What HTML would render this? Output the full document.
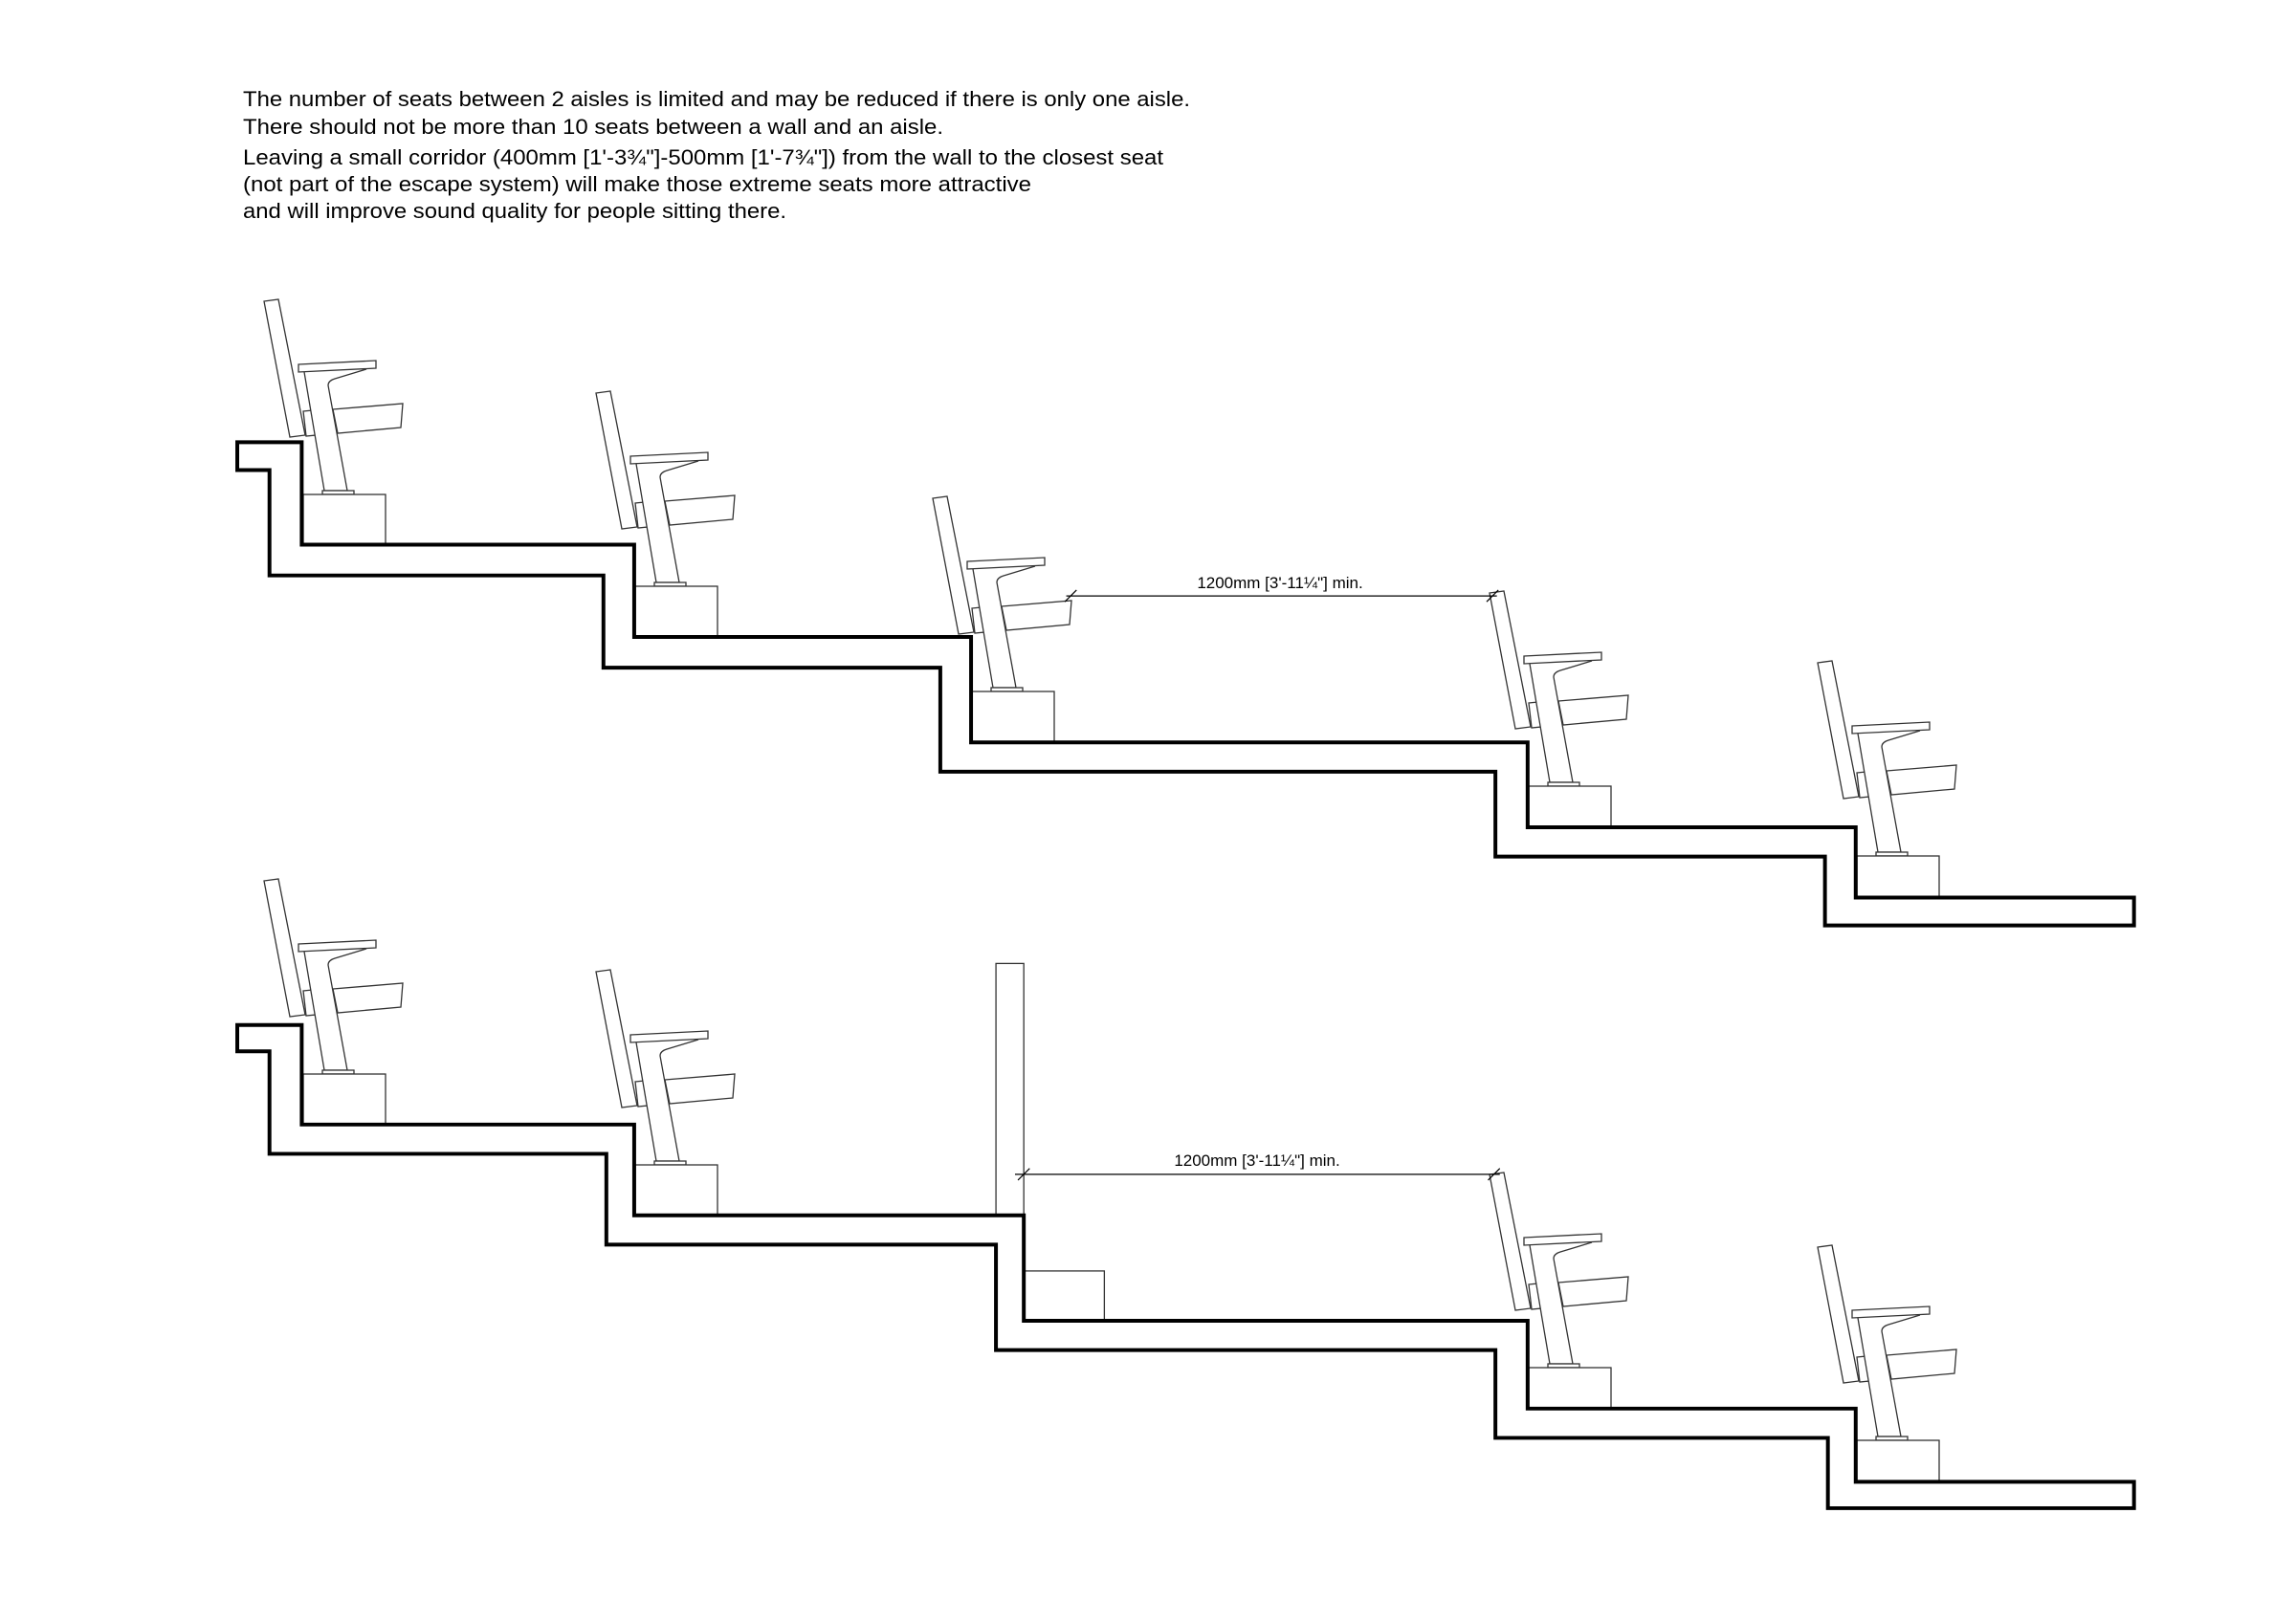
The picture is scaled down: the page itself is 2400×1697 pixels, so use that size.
<!DOCTYPE html>
<html><head><meta charset="utf-8"><style>
html,body{margin:0;padding:0;background:#fff;}
svg{display:block;}
</style></head><body>
<svg width="2400" height="1697" viewBox="0 0 2400 1697" xmlns="http://www.w3.org/2000/svg">
<defs>
<g id="chair" fill="#fff" stroke="#333" stroke-width="1.3" stroke-linejoin="miter">
  <polygon points="-40,-255 -25,-257 3,-115 -13,-113"/>
  <polygon points="1,-140 11,-141 14,-115 4,-114"/>
  <path d="M2,-181 L23,-57 L47,-57 L27,-167 Q27,-172 34,-174 L67,-184"/>
  <polygon points="32,-142 105,-148 103,-123 37,-117"/>
  <polygon points="-4,-189 77,-193 77,-185 -4,-181"/>
  <rect x="21" y="-57" width="33" height="4"/>
</g>
<g id="seat">
  <use href="#chair"/>
  <rect x="1" y="-53" width="86" height="53" fill="#fff" stroke="#333" stroke-width="1.3"/>
</g>
<g id="seatB">
  <use href="#chair"/>
  <rect x="1" y="-53" width="86" height="43" fill="#fff" stroke="#333" stroke-width="1.3"/>
</g>
</defs>
<g font-family="Liberation Sans, Arial, sans-serif" font-size="22" fill="#000">
<text x="254" y="111" textLength="990" lengthAdjust="spacingAndGlyphs">The number of seats between 2 aisles is limited and may be reduced if there is only one aisle.</text>
<text x="254" y="140" textLength="732" lengthAdjust="spacingAndGlyphs">There should not be more than 10 seats between a wall and an aisle.</text>
<text x="254" y="172" textLength="962" lengthAdjust="spacingAndGlyphs">Leaving a small corridor (400mm [1'-3¾"]-500mm [1'-7¾"]) from the wall to the closest seat</text>
<text x="254" y="200" textLength="824" lengthAdjust="spacingAndGlyphs">(not part of the escape system) will make those extreme seats more attractive</text>
<text x="254" y="228" textLength="568" lengthAdjust="spacingAndGlyphs">and will improve sound quality for people sitting there.</text>
</g>

<!-- seats top -->
<use href="#seat" x="316" y="570"/>
<use href="#seat" x="663" y="666"/>
<use href="#seat" x="1015" y="776"/>
<use href="#seatB" x="1597" y="875"/>
<use href="#seatB" x="1940" y="948"/>
<!-- seats bottom -->
<use href="#seat" x="316" y="1176"/>
<use href="#seat" x="663" y="1271"/>
<use href="#seatB" x="1597" y="1483"/>
<use href="#seatB" x="1940" y="1559"/>

<g transform="scale(1.531)">
<polygon fill="none" stroke="#000" stroke-width="2.6" points="162,302 206,302 206,372 433,372 433,435 663,435 663,507 1043,507 1043,565 1267,565 1267,613 1457,613 1457,632 1246,632 1246,585 1021,585 1021,527 642,527 642,456 412,456 412,393 184,393 184,321 162,321"/>
<rect x="680" y="658" width="19" height="172" fill="#fff" stroke="#333" stroke-width="0.85"/>
<rect x="699" y="868" width="55" height="34" fill="none" stroke="#333" stroke-width="0.85"/>
<polygon fill="none" stroke="#000" stroke-width="2.6" points="162,700 206,700 206,768 433,768 433,830 699,830 699,902 1043,902 1043,962 1267,962 1267,1012 1457,1012 1457,1030 1248,1030 1248,982 1021,982 1021,922 680,922 680,850 414,850 414,788 184,788 184,718 162,718"/>
<g stroke="#000" stroke-width="0.8">
<line x1="728" y1="407" x2="1022" y2="407"/>
<line x1="727" y1="411" x2="735" y2="403"/>
<line x1="1015" y1="411" x2="1023" y2="403"/>
<line x1="693" y1="802" x2="1024" y2="802"/>
<line x1="695" y1="806" x2="703" y2="798"/>
<line x1="1016" y1="806" x2="1024" y2="798"/>
</g>
</g>
<g font-family="Liberation Sans, Arial, sans-serif" font-size="17" fill="#000" text-anchor="middle">
<text x="1338" y="615">1200mm [3'-11¼"] min.</text>
<text x="1314" y="1219">1200mm [3'-11¼"] min.</text>
</g>
</svg>
</body></html>
